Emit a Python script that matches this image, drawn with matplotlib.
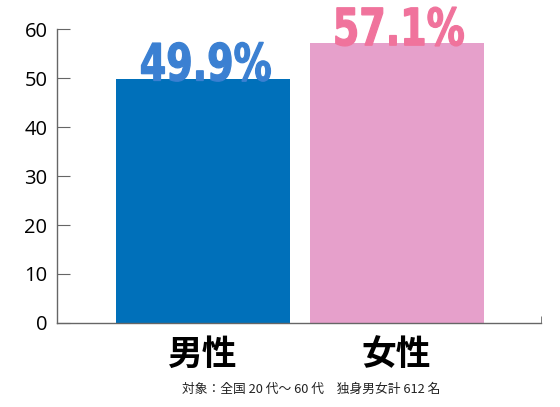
import matplotlib
matplotlib.use("Agg")
import matplotlib.pyplot as plt
from matplotlib.textpath import TextPath
from matplotlib.patches import PathPatch
from matplotlib.font_manager import FontProperties
from matplotlib.transforms import Affine2D

categories = ["男性", "女性"]
values = [49.9, 57.1]
value_labels = ["49.9%", "57.1%"]
bar_colors = ["#0070BA", "#E6A0CB"]
label_colors = ["#3B80D2", "#F0739C"]
yticks = [0, 10, 20, 30, 40, 50, 60]
caption = "対象：全国 20 代～ 60 代　独身男女計 612 名"

cjk = ["Noto Sans CJK JP", "DejaVu Sans"]
plt.rcParams['font.family'] = cjk

DPI = 100
fig = plt.figure(figsize=(5.6, 4.07), dpi=DPI)
ax = fig.add_axes([0.102, 0.2064, 0.864, 0.7223])

x = list(range(len(categories)))
ax.bar(x, values, width=0.897, color=bar_colors, zorder=2)
ax.set_xlim(-0.753, 1.745)
ax.set_ylim(0, 60)

# condensed bold value labels (scaled text paths)
fp = FontProperties(family="DejaVu Sans", weight="bold")
label_size = 37  # points
squeeze = 0.74
for xi, v, lab, c in zip(x, values, value_labels, label_colors):
    tp = TextPath((0, 0), lab, size=label_size, prop=fp)
    ext = tp.get_extents()
    cx = (ext.x0 + ext.x1) / 2
    px, py = ax.transData.transform((xi, v))
    tr = (Affine2D().translate(-cx, 0).scale(squeeze * DPI / 72, DPI / 72)
          .translate(px + 3, py - 2))
    patch = PathPatch(tp, transform=tr, facecolor=c, edgecolor=c, linewidth=0.9,
                      clip_on=False, zorder=3)
    fig.add_artist(patch)

for s in ['top', 'right']:
    ax.spines[s].set_visible(False)
for s in ['left', 'bottom']:
    ax.spines[s].set_color('#666666')
    ax.spines[s].set_linewidth(1.0)

ax.set_yticks(yticks)
ax.set_yticklabels([str(t) for t in yticks], fontsize=14.5, family=["Open Sans", "DejaVu Sans"])
ax.tick_params(axis='y', direction='in', length=9, color='#666666', pad=7)

ax.set_xticks(x)
ax.set_xticklabels(categories, fontsize=25, fontweight='bold')
ax.tick_params(axis='x', length=0, pad=10)
ax.set_xticks([ax.get_xlim()[1]], minor=True)
ax.tick_params(axis='x', which='minor', direction='in', length=5, color='#666666')

fig.text(0.555, 0.042, caption, ha='center', va='center', fontsize=9.2, color='#222222')

fig.savefig("out.png", dpi=DPI)
